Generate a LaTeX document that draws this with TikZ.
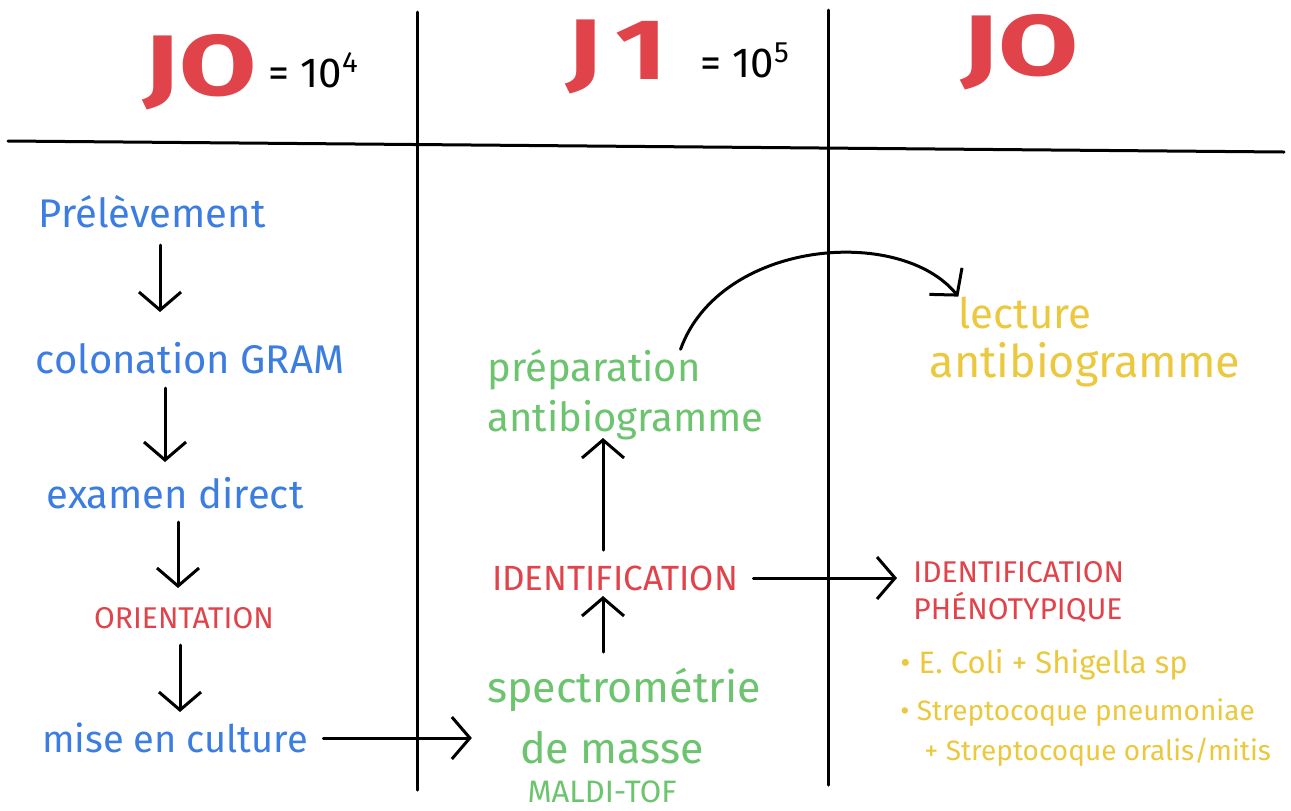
\documentclass[tikz,border=0pt]{standalone}
\usepackage{fontspec}
\usepackage{graphicx}
\setmainfont{Fira Sans}
\usetikzlibrary{arrows.meta,calc}
\definecolor{hblue}{RGB}{60,125,225}
\definecolor{hred}{RGB}{224,67,74}
\definecolor{hgreen}{RGB}{108,196,111}
\definecolor{hyellow}{RGB}{235,200,62}
\tikzset{
  rule/.style={line width=1.5pt, line cap=round},
  arr/.style={line width=1.5pt, line cap=round, -{Straight Barb[length=9pt,width=21pt,line width=1.5pt]}},
  txt/.style={inner sep=0pt},
  big/.style={txt, text=hred, font=\fontsize{43}{43}\selectfont\bfseries},
  eqn/.style={txt, text=black, font=\fontsize{21}{21}\selectfont},
  bluet/.style={txt, text=hblue, font=\fontsize{20}{24}\selectfont},
  greent/.style={txt, text=hgreen, font=\fontsize{20}{25}\selectfont},
  yellowt/.style={txt, text=hyellow, font=\fontsize{21}{25}\selectfont},
  redcap/.style={txt, text=hred, font=\fontsize{16}{18.5}\selectfont},
  bul/.style={txt, text=hyellow, font=\fontsize{14}{18}\selectfont, anchor=west},
}
\begin{document}
\begin{tikzpicture}[x=0.5pt,y=-0.5pt]
\useasboundingbox[fill=white] (0,0) rectangle (1291,810);
% grid lines
\draw[rule] (8,141) -- (1284,152);
\draw[rule] (417,12) -- (417,790);
\draw[rule] (828,10) -- (828,785);
% headers
\node[big] (h1) at (200,72) {\scalebox{1.3}[1]{JO}};
\node[eqn, anchor=west] (h1e) at (268,70) {= 10\textsuperscript{4}};
\node[big] (h2) at (617,57) {\scalebox{1.3}[1]{J\hspace{5pt}1}};
\node[eqn, anchor=west] (h2e) at (700,60) {= 10\textsuperscript{5}};
\node[big] (h3) at (1020,52) {\scalebox{1.35}[1]{JO}};
% left column
\node[bluet] (pre) at (152,212) {Prélèvement};
\node[bluet] (col) at (190,358) {colonation GRAM};
\node[bluet] (exa) at (175,493) {examen direct};
\node[redcap, font=\fontsize{15}{18}\selectfont] (ori) at (184,618) {ORIENTATION};
\node[bluet, font=\fontsize{19}{24}\selectfont] (mis) at (175,738) {mise en culture};
% middle column
\node[greent, anchor=west, align=left] (prep) at (487,395) {préparation\\antibiogramme};
\node[redcap, font=\fontsize{17.5}{20}\selectfont] (id1) at (615,578) {IDENTIFICATION};
\node[greent, font=\fontsize{21.5}{25}\selectfont] (spec) at (624,690) {spectrométrie};
\node[greent, font=\fontsize{21.5}{25}\selectfont] (masse) at (612,748) {de masse};
\node[greent, font=\fontsize{15.5}{18}\selectfont] (maldi) at (602,792) {MALDI-TOF};
% right column
\node[yellowt] (lec) at (1025,313) {lecture};
\node[yellowt, font=\fontsize{22.5}{25}\selectfont] (anti) at (1085,365) {antibiogramme};
\node[redcap, anchor=west, align=left, font=\fontsize{15}{18.5}\selectfont] (idp) at (913,592) {IDENTIFICATION\\PHÉNOTYPIQUE};
\node[bul, font=\fontsize{15.5}{18}\selectfont] (b1) at (900,665) {• E. Coli + Shigella sp};
\node[bul] (b2) at (900,713) {• Streptocoque pneumoniae};
\node[bul] (b3) at (924,752) {+ Streptocoque oralis/mitis};
% arrow x positions
\coordinate (x1) at (160,0);
\coordinate (x2) at (165,0);
\coordinate (x3) at (178,0);
\coordinate (x4) at (180,0);
\coordinate (x5) at (603,0);
% connectors
\draw[arr, shorten <=16.5pt, shorten >=23pt] (pre.center -| x1) -- (col.center -| x1);
\draw[arr, shorten <=15pt, shorten >=15.5pt] (col.center -| x2) -- (exa.center -| x2);
\draw[arr, shorten <=14.5pt, shorten >=15pt] (exa.center -| x3) -- (ori.center -| x3);
\draw[arr, shorten <=13.5pt, shorten >=13pt] (ori.center -| x4) -- (mis.center -| x4);
\draw[arr, shorten <=19pt, shorten >=9pt] (spec.center -| x5) -- (id1.center -| x5);
\draw[arr, shorten <=14pt, shorten >=21.5pt] (id1.center -| x5) -- (prep.center -| x5);
\draw[arr, shorten <=7.5pt, shorten >=24pt] (mis.east) -- (masse.west |- mis.east);
\draw[arr, shorten <=7.5pt, shorten >=8pt] (id1.east) -- (idp.west |- id1.east);
\draw[arr] ($(prep.north)+(55,0)$) .. controls (720,240) and (900,225) .. (lec.north west);
\end{tikzpicture}
\end{document}
